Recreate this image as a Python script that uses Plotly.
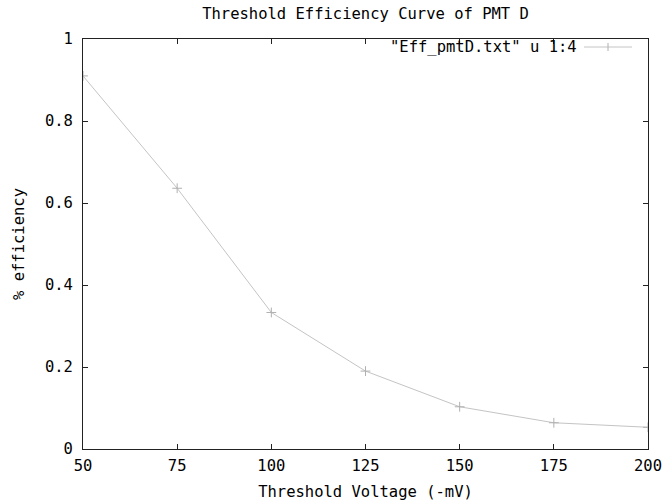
import plotly.graph_objects as go

voltage = [50, 75, 100, 125, 150, 175, 200]
efficiency = [0.910, 0.636, 0.333, 0.190, 0.103, 0.064, 0.053]
x_ticks = [50, 75, 100, 125, 150, 175, 200]
y_ticks = [0, 0.2, 0.4, 0.6, 0.8, 1]
y_tick_text = ["0", "0.2", "0.4", "0.6", "0.8", "1"]

FONT = "DejaVu Sans Mono"
FS = 15.5
LINE_COLOR = "#c4c4c4"

fig = go.Figure()
fig.add_trace(go.Scatter(
    x=voltage, y=efficiency, mode="lines+markers",
    line=dict(color=LINE_COLOR, width=1),
    marker=dict(symbol="cross-thin", size=7, line=dict(color="#b0b0b0", width=1)),
    showlegend=False, hoverinfo="skip",
))

axis_common = dict(
    showgrid=False, zeroline=False, showline=True, linecolor="#222222", linewidth=1,
    mirror="ticks", ticks="inside", ticklen=5, tickcolor="#222222", tickwidth=1,
    tickfont=dict(family=FONT, size=FS, color="#000000"), automargin=False,
)

fig.update_layout(
    width=667, height=502,
    margin=dict(l=83, r=19, t=39, b=53),
    paper_bgcolor="white", plot_bgcolor="white",
    title=dict(text="Threshold Efficiency Curve of PMT D", x=0.5, xref="paper",
               y=1 - 14 / 502, yref="container", yanchor="middle", xanchor="center",
               font=dict(family=FONT, size=FS, color="#000000")),
    xaxis=dict(range=[50, 200], tickvals=x_ticks, ticktext=[str(v) for v in x_ticks],
               ticklabelstandoff=2,
               title=dict(text="Threshold Voltage (-mV)", standoff=12,
                          font=dict(family=FONT, size=FS, color="#000000")),
               **axis_common),
    yaxis=dict(range=[0, 1], tickvals=y_ticks, ticktext=y_tick_text,
               ticklabelstandoff=6,
               title=dict(text="% efficiency", standoff=16,
                          font=dict(family=FONT, size=FS, color="#000000")),
               **axis_common),
    showlegend=False,
)

# gnuplot-style key: text followed by the line sample on the right
legend_label = '"Eff_pmtD.txt" u 1:4'
fig.add_annotation(text=legend_label, xref="paper", yref="paper",
                   x=(579 - 83) / 565, y=(449 - 47) / 410, xanchor="right", yanchor="middle",
                   showarrow=False, font=dict(family=FONT, size=FS, color="#000000"))
fig.add_shape(type="line", xref="paper", yref="paper",
              x0=(584 - 83) / 565, x1=(632 - 83) / 565,
              y0=(449 - 47) / 410, y1=(449 - 47) / 410,
              line=dict(color=LINE_COLOR, width=1))
fig.add_shape(type="line", xref="paper", yref="paper",
              x0=(608 - 83) / 565, x1=(608 - 83) / 565,
              y0=(449 - 51) / 410, y1=(449 - 43) / 410,
              line=dict(color="#b0b0b0", width=1))

fig.write_html("out.html", config={"displayModeBar": False},
               post_script="document.body.style.margin='0';")
